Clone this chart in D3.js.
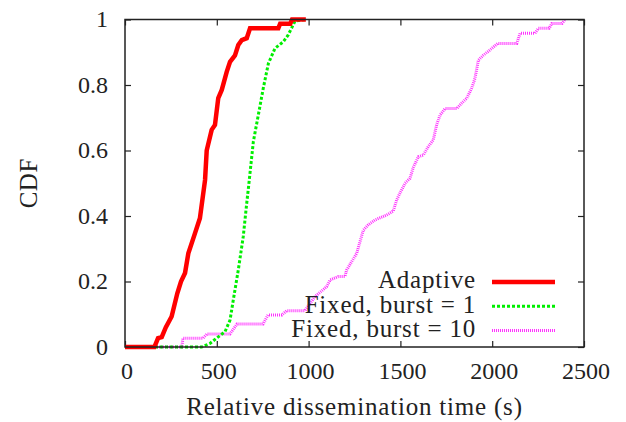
<!DOCTYPE html>
<html>
<head>
<meta charset="utf-8">
<script src="https://cdn.jsdelivr.net/npm/d3@7"></script>
<style>
body { margin: 0; background: #fff; }
</style>
</head>
<body>
<div id="rysCdf"></div>
<script>
// tick values
var xTicks = [0, 500, 1000, 1500, 2000, 2500];
var yTicks = [0, 0.2, 0.4, 0.6, 0.8, 1];
var seriesNames = ["Adaptive", "Fixed, burst = 1", "Fixed, burst = 10"];

// [time (s), cdf]
var adaptive = [[0,0],[160,0],[180,0.027],[200,0.03],[222,0.06],[254,0.093],[285,0.164],[305,0.2],[327,0.226],
  [345,0.286],[381,0.347],[408,0.393],[436,0.51],[445,0.6],[472,0.663],[490,0.678],[508,0.76],[527,0.785],
  [554,0.84],[572,0.871],[599,0.89],[617,0.922],[636,0.937],[663,0.943],[681,0.973],[835,0.973],[845,0.987],
  [900,0.987],[910,1],[985,1]];
var burst1 = [[0,0],[418,0],[463,0.011],[499,0.027],[545,0.047],[572,0.082],[590,0.144],[617,0.235],[644,0.337],
  [663,0.439],[675,0.5],[699,0.627],[726,0.708],[753,0.79],[781,0.866],[817,0.912],[862,0.932],[889,0.953],
  [926,0.995],[980,1]];
var burst10 = [[0,0],[309,0],[316,0.027],[425,0.027],[447,0.04],[572,0.04],[610,0.07],[752,0.07],[779,0.098],
  [855,0.098],[881,0.111],[980,0.111],[1035,0.154],[1098,0.184],[1117,0.205],[1162,0.215],[1198,0.215],
  [1207,0.235],[1262,0.286],[1298,0.357],[1325,0.373],[1362,0.388],[1425,0.403],[1461,0.415],[1480,0.45],
  [1525,0.5],[1552,0.515],[1570,0.548],[1598,0.581],[1625,0.586],[1652,0.612],[1679,0.632],[1698,0.68],
  [1716,0.708],[1743,0.728],[1807,0.728],[1843,0.75],[1861,0.759],[1888,0.79],[1906,0.82],[1925,0.876],
  [1952,0.891],[1988,0.907],[2030,0.927],[2134,0.927],[2152,0.958],[2233,0.958],[2251,0.973],[2310,0.973],
  [2325,0.988],[2380,0.988],[2397,1]];

var font = "'Liberation Serif', 'DejaVu Serif', serif";
var margin = {top: 19.5, right: 42, bottom: 75, left: 125};
var width = 459, height = 327.5;

var svg = d3.select("#rysCdf")
  .append("svg")
  .attr("width", 626)
  .attr("height", 422)
  .attr("font-family", font)
  .append("g")
  .attr("transform", "translate(" + margin.left + "," + margin.top + ")");

var xscale = d3.scaleLinear().domain([0, 2500]).range([0, width]);
var yscale = d3.scaleLinear().domain([0, 1]).range([height, 0]);

// ticks on all four sides, pointing inward (gnuplot style)
function tickStyle(g) {
  g.select(".domain").remove();
  g.selectAll(".tick line").attr("stroke", "#222").attr("stroke-width", 1.2);
  g.selectAll(".tick text").remove();
}
svg.append("g").attr("transform", "translate(0," + height + ")")
  .call(d3.axisBottom(xscale).tickValues(xTicks).tickSize(-6)).call(tickStyle);
svg.append("g")
  .call(d3.axisTop(xscale).tickValues(xTicks).tickSize(-6)).call(tickStyle);
svg.append("g")
  .call(d3.axisLeft(yscale).tickValues(yTicks).tickSize(-6)).call(tickStyle);
svg.append("g").attr("transform", "translate(" + width + ",0)")
  .call(d3.axisRight(yscale).tickValues(yTicks).tickSize(-6)).call(tickStyle);

function label(sel, size, spacing) {
  sel.style("font-family", font).style("font-size", size + "px").style("fill", "#222")
    .style("letter-spacing", (spacing || 0) + "px");
}

// tick labels
svg.append("g").selectAll("text")
  .data(xTicks).enter().append("text")
  .attr("x", d => xscale(d) + 2)
  .attr("y", height + 32)
  .attr("text-anchor", "middle")
  .call(label, 24)
  .text(d => d);

svg.append("g").selectAll("text")
  .data(yTicks).enter().append("text")
  .attr("x", -17)
  .attr("y", d => yscale(d))
  .attr("dy", "0.33em")
  .attr("text-anchor", "end")
  .call(label, 24)
  .text(d => d3.format("~g")(d));

svg.append("text")
  .attr("x", width / 2)
  .attr("y", height + 68)
  .attr("text-anchor", "middle")
  .call(label, 25, 0.8)
  .text("Relative dissemination time (s)");

svg.append("text")
  .attr("transform", "translate(-97," + (height / 2) + ")rotate(-90)")
  .attr("text-anchor", "middle")
  .attr("dy", "0.35em")
  .call(label, 25, 0.5)
  .text("CDF");

var styles = [
  {color: "#ff0000", w: 4.5, dash: null},
  {color: "#00ee00", w: 3, dash: "3,2"},
  {color: "#ff33ff", w: 3, dash: "1,1"}
];
var allSeries = [adaptive, burst1, burst10];

var line = d3.line()
  .x(d => xscale(d[0]))
  .y(d => yscale(d[1]));

// draw back to front so red stays on top
[2, 1, 0].forEach(function (i) {
  svg.append("path")
    .datum(allSeries[i])
    .attr("fill", "none")
    .attr("stroke", styles[i].color)
    .attr("stroke-width", styles[i].w)
    .attr("stroke-dasharray", styles[i].dash)
    .attr("d", line);
});

// legend
var legend = svg.append("g");
seriesNames.forEach(function (name, i) {
  var ly = 262.5 + i * 24.3;
  legend.append("text")
    .attr("x", 476 - margin.left)
    .attr("y", ly)
    .attr("dy", "0.25em")
    .attr("text-anchor", "end")
    .call(label, 25, 0.8)
    .text(name);
  legend.append("line")
    .attr("x1", 492 - margin.left).attr("x2", 555 - margin.left)
    .attr("y1", ly).attr("y2", ly)
    .attr("stroke", styles[i].color)
    .attr("stroke-width", styles[i].w)
    .attr("stroke-dasharray", styles[i].dash);
});

// frame
svg.append("rect")
  .attr("width", width)
  .attr("height", height)
  .attr("fill", "none")
  .attr("stroke", "#222")
  .attr("stroke-width", 1.5);
</script>
</body>
</html>
